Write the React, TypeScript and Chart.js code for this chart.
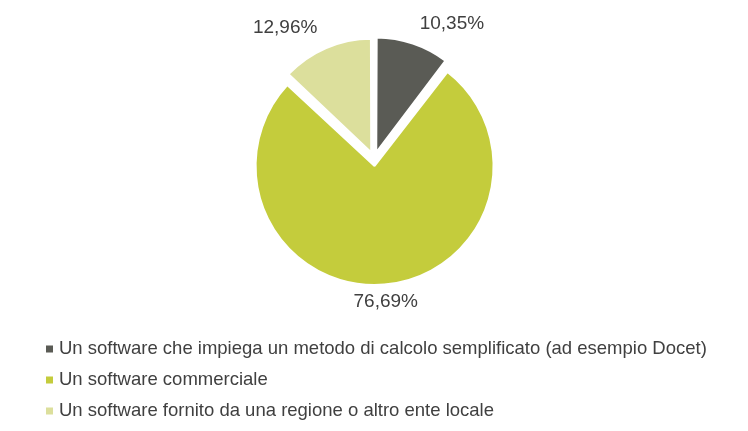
import React, { useEffect, useRef } from "react";
import { Chart, registerables, Plugin } from "chart.js";

Chart.register(...registerables);

const categories = [
  "Un software che impiega un metodo di calcolo semplificato (ad esempio Docet)",
  "Un software commerciale",
  "Un software fornito da una regione o altro ente locale",
];
const shares = [10.35, 76.69, 12.96];
const shareLabels = ["10,35%", "76,69%", "12,96%"];
const sliceColors = ["#5a5b55", "#c4cc3c", "#dcdf9c"];

const FONT = '"Liberation Sans", Arial, sans-serif';
const TEXT_COLOR = "#404040";

// percentuali fuori dalle fette, allineate verso l'esterno
const sliceLabels: Plugin<"pie"> = {
  id: "sliceLabels",
  afterDatasetsDraw(chart) {
    const ctx = chart.ctx;
    const meta = chart.getDatasetMeta(0);
    ctx.save();
    ctx.font = `19px ${FONT}`;
    ctx.fillStyle = TEXT_COLOR;
    ctx.textBaseline = "middle";
    meta.data.forEach((el, i) => {
      const arc = el as any;
      const mid = (arc.startAngle + arc.endAngle) / 2;
      const r = arc.outerRadius + 31;
      const c = Math.cos(mid);
      ctx.textAlign = c > 0.2 ? "left" : c < -0.2 ? "right" : "center";
      ctx.fillText(shareLabels[i], arc.x + c * r, arc.y + Math.sin(mid) * r);
    });
    ctx.restore();
  },
};

// legenda verticale sotto la torta
const sideLegend: Plugin<"pie"> = {
  id: "stackedLegend",
  afterDraw(chart) {
    const ctx = chart.ctx;
    const top = chart.chartArea.bottom + 63;
    ctx.save();
    ctx.font = `18.5px ${FONT}`;
    ctx.textBaseline = "middle";
    ctx.textAlign = "left";
    categories.forEach((label, i) => {
      const y = top + i * 31;
      ctx.fillStyle = sliceColors[i];
      ctx.fillRect(38, y - 3.5, 7, 7);
      ctx.fillStyle = TEXT_COLOR;
      ctx.fillText(label, 51, y);
    });
    ctx.restore();
  },
};

function PieChart() {
  const canvasRef = useRef<HTMLCanvasElement>(null);

  useEffect(() => {
    if (!canvasRef.current) return;
    const chart = new Chart(canvasRef.current, {
      type: "pie",
      data: {
        labels: categories,
        datasets: [
          {
            data: shares,
            backgroundColor: sliceColors,
            borderColor: "#ffffff",
            borderWidth: 2,
            hoverBorderWidth: 2,
            offset: 28,
            hoverOffset: 0,
          },
        ],
      },
      options: {
        animation: false,
        responsive: true,
        maintainAspectRatio: false,
        layout: { padding: { top: 24, bottom: 137 } },
        plugins: {
          legend: { display: false },
          tooltip: { enabled: false },
        },
      },
      plugins: [sliceLabels, sideLegend],
    });
    return () => chart.destroy();
  }, []);

  return (
    <div style={{ position: "relative", width: 732, height: 415 }}>
      <canvas ref={canvasRef} />
    </div>
  );
}

export default function App() {
  return <PieChart />;
}
